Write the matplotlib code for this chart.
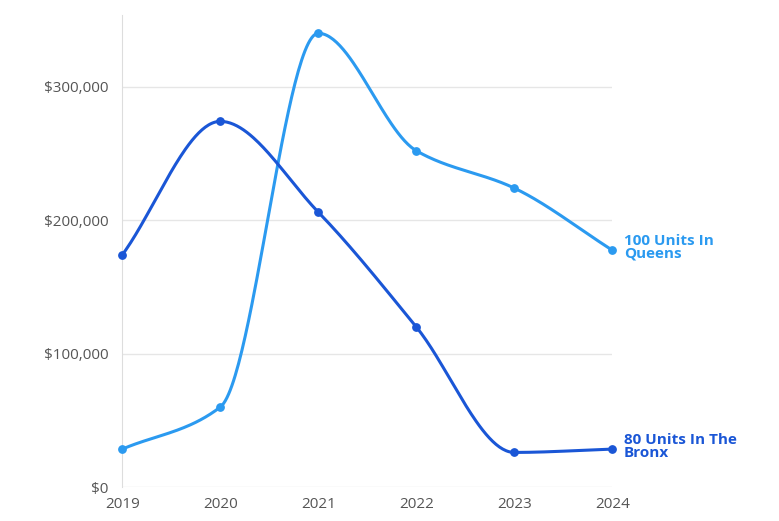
import numpy as np
import matplotlib.pyplot as plt
from matplotlib.ticker import FuncFormatter

years = [2019, 2020, 2021, 2022, 2023, 2024]
queens = [28500, 60000, 340000, 252000, 224000, 177500]
bronx = [174000, 274000, 206000, 120000, 26000, 28500]

QUEENS_C = "#2b9af0"
BRONX_C = "#1a56d6"


def monotone(x, y, n=60):
    # Fritsch-Carlson monotone cubic, like d3 curveMonotoneX
    x = np.asarray(x, float); y = np.asarray(y, float)
    h = np.diff(x); d = np.diff(y) / h
    m = np.zeros_like(y)
    m[0], m[-1] = d[0], d[-1]
    for i in range(1, len(y) - 1):
        if d[i - 1] * d[i] <= 0:
            m[i] = 0
        else:
            m[i] = 3 * (h[i - 1] + h[i]) / ((2 * h[i] + h[i - 1]) / d[i - 1] + (h[i] + 2 * h[i - 1]) / d[i])
    xs, ys = [], []
    for i in range(len(h)):
        t = np.linspace(0, 1, n)
        h00 = 2 * t**3 - 3 * t**2 + 1; h10 = t**3 - 2 * t**2 + t
        h01 = -2 * t**3 + 3 * t**2; h11 = t**3 - t**2
        xs.append(x[i] + t * h[i])
        ys.append(h00 * y[i] + h10 * h[i] * m[i] + h01 * y[i + 1] + h11 * h[i] * m[i + 1])
    return np.concatenate(xs), np.concatenate(ys)


plt.rcParams["font.family"] = "Open Sans"
fig = plt.figure(figsize=(7.79, 5.21), dpi=100)
ax = fig.add_axes([0.157, 0.065, 0.629, 0.906])

for vals, c in [(queens, QUEENS_C), (bronx, BRONX_C)]:
    sx, sy = monotone(years, vals)
    ax.plot(sx, sy, color=c, lw=2.2, clip_on=False, zorder=3)
    ax.scatter(years, vals, color=c, s=28, zorder=4, clip_on=False)

ax.set_xlim(2019, 2024)
ax.set_ylim(0, 353600)
ax.set_yticks([0, 100000, 200000, 300000])
ax.yaxis.set_major_formatter(FuncFormatter(lambda v, p: f"${v:,.0f}"))
ax.set_xticks(years)
ax.grid(axis="y", color="#e6e6e6", lw=1)
ax.set_axisbelow(True)
for s in ["top", "right", "bottom"]:
    ax.spines[s].set_visible(False)
ax.spines["left"].set_color("#dddddd")
ax.tick_params(length=0, labelsize=11, colors="#555555")
ax.tick_params(axis="y", pad=10)
ax.tick_params(axis="x", pad=7)

ax.text(2024.12, queens[-1] + 2000, "100 Units In\nQueens", color=QUEENS_C,
        fontsize=11, fontweight="bold", va="center", linespacing=0.85)
ax.text(2024.12, bronx[-1] + 2000, "80 Units In The\nBronx", color=BRONX_C,
        fontsize=11, fontweight="bold", va="center", linespacing=0.85)

fig.savefig("out.png", dpi=100)
